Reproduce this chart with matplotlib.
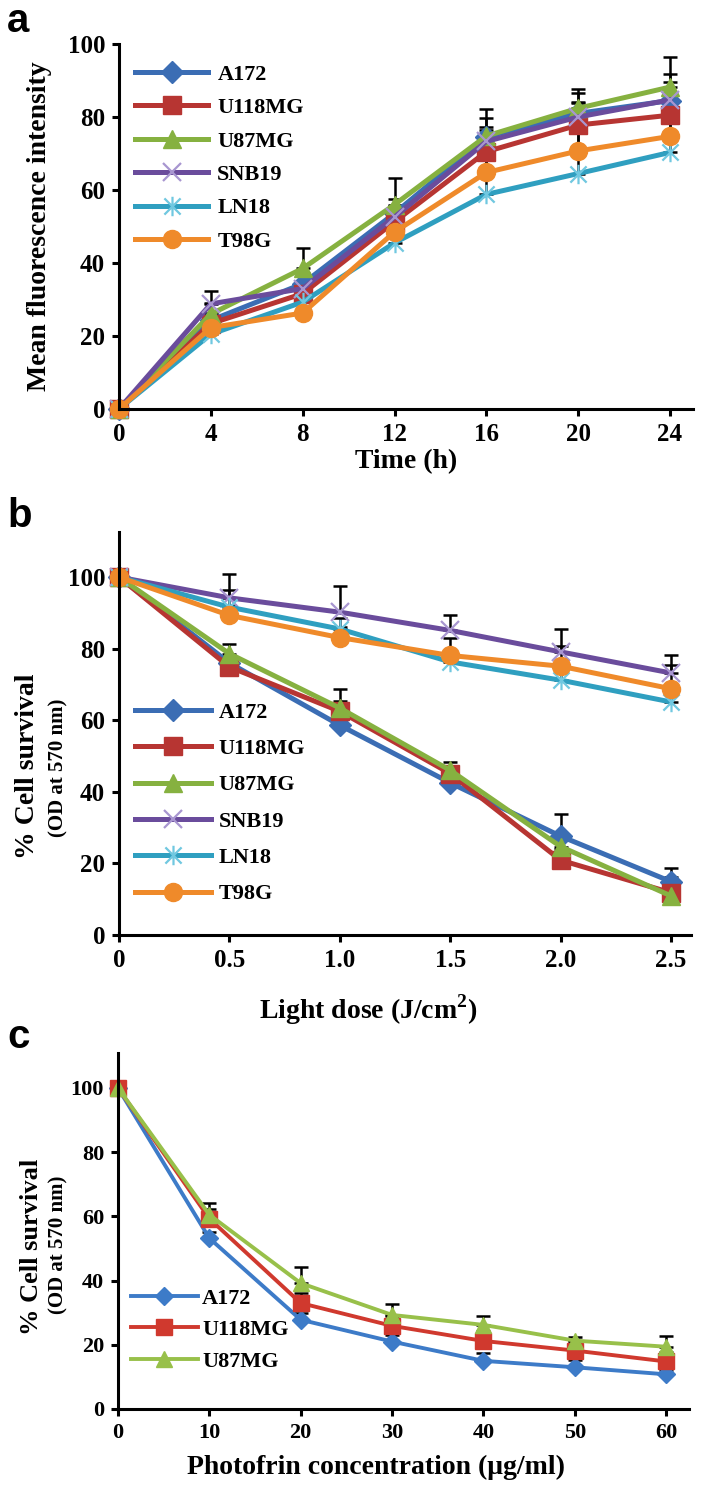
import matplotlib
matplotlib.use("Agg")
import matplotlib.pyplot as plt
from matplotlib.path import Path

plt.rcParams["font.family"] = ["Liberation Serif", "DejaVu Serif"]
plt.rcParams["font.weight"] = "bold"
plt.rcParams["mathtext.fontset"] = "custom"
plt.rcParams["mathtext.rm"] = "Liberation Serif:bold"
plt.rcParams["mathtext.bf"] = "Liberation Serif:bold"

# ---- data ----
lines6 = ["A172", "U118MG", "U87MG", "SNB19", "LN18", "T98G"]
lines3 = ["A172", "U118MG", "U87MG"]

# panel a: fluorescence over time
time_h = [0, 4, 8, 12, 16, 20, 24]
fluo = {
    "A172":   [0, 24.3, 34.3, 53.6, 74.6, 81.0, 84.5],
    "U118MG": [0, 23.4, 31.6, 51.3, 70.5, 77.8, 80.5],
    "U87MG":  [0, 26.0, 38.5, 56.0, 74.8, 82.4, 88.2],
    "SNB19":  [0, 28.8, 33.0, 52.6, 73.3, 80.0, 84.7],
    "LN18":   [0, 20.5, 29.3, 45.5, 58.8, 64.5, 70.3],
    "T98G":   [0, 22.3, 26.3, 48.5, 64.8, 70.7, 74.7],
}
fluo_err = {
    "A172":   [0, 2, 3, 4, 5, 5.5, 7.2],
    "U118MG": [0, 2, 3, 4, 6, 6, 6],
    "U87MG":  [0, 3, 5.5, 7.4, 7.4, 5.2, 8.2],
    "SNB19":  [0, 3.4, 2, 3, 4, 4, 5],
    "LN18":   [0, 2, 3, 5, 12, 14, 12],
    "T98G":   [0, 2, 3, 4, 6, 7, 5],
}

# panel b: survival vs light dose
dose = [0, 0.5, 1.0, 1.5, 2.0, 2.5]
surv_dose = {
    "A172":   [100, 76.0, 58.6, 42.5, 27.6, 14.9],
    "U118MG": [100, 74.9, 62.5, 45.1, 20.9, 11.8],
    "U87MG":  [100, 78.6, 63.4, 46.0, 24.7, 10.9],
    "SNB19":  [100, 94.2, 90.2, 85.1, 79.1, 73.2],
    "LN18":   [100, 91.6, 85.5, 76.3, 71.2, 65.1],
    "T98G":   [100, 89.3, 83.1, 78.1, 75.1, 68.8],
}
surv_dose_err = {
    "A172":   [0, 2, 3, 2, 6.1, 3.7],
    "U118MG": [0, 2, 3, 2, 3, 4.5],
    "U87MG":  [0, 2.6, 5.2, 2.4, 3, 2],
    "SNB19":  [0, 6.8, 7.2, 4.4, 6.5, 4.9],
    "LN18":   [0, 4.7, 3, 3, 3, 4],
    "T98G":   [0, 3, 3, 4.9, 5.6, 6.7],
}

# panel c: survival vs photofrin concentration
conc = [0, 10, 20, 30, 40, 50, 60]
surv_conc = {
    "A172":   [100, 53.2, 27.8, 21.0, 15.0, 13.0, 10.8],
    "U118MG": [100, 59.3, 33.0, 25.9, 21.2, 18.2, 14.8],
    "U87MG":  [100, 60.5, 39.2, 29.3, 26.2, 21.3, 19.4],
}
surv_conc_err = {
    "A172":   [0, 2, 2, 2, 2.6, 2.3, 1.5],
    "U118MG": [0, 3, 3, 3, 3, 3, 3],
    "U87MG":  [0, 3.6, 5, 3.3, 2.8, 1.1, 3.2],
}

# ---- styles ----
star = Path([(-1, -1), (1, 1), (-1, 1), (1, -1), (0, -1.2), (0, 1.2)],
            [Path.MOVETO, Path.LINETO] * 3)
style6 = {
    "A172":   dict(color="#3b6db4", marker="D", ms=11, mfc="#3b6db4", mec="#3b6db4"),
    "U118MG": dict(color="#b73532", marker="s", ms=13, mfc="#b73532", mec="#b73532"),
    "U87MG":  dict(color="#86b140", marker="^", ms=13, mfc="#86b140", mec="#86b140"),
    "SNB19":  dict(color="#6a4c9c", marker="x", ms=13, mfc="none", mec="#a896d0", mew=1.6),
    "LN18":   dict(color="#2f9fc0", marker=star, ms=14, mfc="none", mec="#70c8e0", mew=1.6),
    "T98G":   dict(color="#ef8a2a", marker="o", ms=13, mfc="#ef8a2a", mec="#ef8a2a"),
}
style3 = {
    "A172":   dict(color="#3d7bc8", marker="D", ms=9, mfc="#3d7bc8", mec="#3d7bc8"),
    "U118MG": dict(color="#d0392e", marker="s", ms=11, mfc="#d0392e", mec="#d0392e"),
    "U87MG":  dict(color="#98c04a", marker="^", ms=12, mfc="#98c04a", mec="#98c04a"),
}

W, H = 703, 1495
fig = plt.figure(figsize=(W / 100, H / 100), dpi=100)


def px_axes(x0, x1, ytop, ybot):
    return fig.add_axes([x0 / W, 1 - ybot / H, (x1 - x0) / W, (ybot - ytop) / H])


def ftext(x, y, s, **kw):
    fig.text(x / W, 1 - y / H, s, **kw)


def style_axes(ax, tick_size):
    for side in ["top", "right"]:
        ax.spines[side].set_visible(False)
    for side in ["left", "bottom"]:
        ax.spines[side].set_linewidth(2.2)
    ax.tick_params(direction="out", length=5, width=2.2, labelsize=tick_size, pad=5)
    for lab in ax.get_xticklabels() + ax.get_yticklabels():
        lab.set_fontweight("bold")


def draw(ax, x, data, err, names, styles, lw):
    for i, name in enumerate(names):
        ax.errorbar(x, data[name], yerr=[[0] * len(x), err[name]], fmt="none",
                    ecolor="black", elinewidth=1.8, capsize=5, capthick=1.8,
                    zorder=1.5, clip_on=False)
        st = styles[name]
        ax.plot(x, data[name], lw=lw, label=name, zorder=2 + i * 0.1,
                clip_on=False, **st)


legend_font = {"family": "Liberation Serif", "weight": "bold", "size": 16}

# ---- panel a ----
ax1 = px_axes(119, 693, 44, 409)
draw(ax1, time_h, fluo, fluo_err, lines6, style6, 3.6)
ax1.set_xlim(0, 25.0)
ax1.set_ylim(0, 100)
ax1.set_xticks(time_h)
ax1.set_yticks([0, 20, 40, 60, 80, 100])
style_axes(ax1, 18)
ax1.legend(loc="upper left", bbox_to_anchor=(0.028, 0.945), frameon=False,
           borderpad=0, borderaxespad=0, handlelength=3.3, handletextpad=0.4,
           labelspacing=0.58, prop=legend_font)
ftext(40, 226, "Mean fluorescence intensity", rotation=90, ha="center", va="center",
      fontsize=20, fontweight="bold")
ftext(406, 462, "Time (h)", ha="center", va="center", fontsize=20, fontweight="bold")

# ---- panel b ----
ax2 = px_axes(119, 691, 532, 935)
draw(ax2, dose, surv_dose, surv_dose_err, lines6, style6, 3.6)
ax2.set_xlim(0, 2.59)
ax2.set_ylim(0, 112.6)
ax2.set_xticks(dose)
ax2.set_xticklabels(["0", "0.5", "1.0", "1.5", "2.0", "2.5"])
ax2.set_yticks([0, 20, 40, 60, 80, 100])
style_axes(ax2, 18)
ax2.legend(loc="upper left", bbox_to_anchor=(0.028, 0.578), frameon=False,
           borderpad=0, borderaxespad=0, handlelength=3.4, handletextpad=0.35,
           labelspacing=0.71, prop=legend_font)
ftext(28, 766, "% Cell survival", rotation=90, ha="center", va="center",
      fontsize=20, fontweight="bold")
ftext(58, 768, "(OD at 570 nm)", rotation=90, ha="center", va="center",
      fontsize=15, fontweight="bold")
ftext(368, 1010, r"Light dose (J/cm$^{2}$)", ha="center", va="center",
      fontsize=20, fontweight="bold")

# ---- panel c ----
ax3 = px_axes(118, 689, 1053, 1409)
draw(ax3, conc, surv_conc, surv_conc_err, lines3, style3, 2.8)
ax3.set_xlim(0, 62.5)
ax3.set_ylim(0, 110.9)
ax3.set_xticks(conc)
ax3.set_yticks([0, 20, 40, 60, 80, 100])
style_axes(ax3, 16)
ax3.legend(loc="upper left", bbox_to_anchor=(0.023, 0.34), frameon=False,
           borderpad=0, borderaxespad=0, handlelength=3.0, handletextpad=0.2,
           labelspacing=0.5, prop=legend_font)
ftext(31, 1247, "% Cell survival", rotation=90, ha="center", va="center",
      fontsize=19, fontweight="bold")
ftext(58, 1245, "(OD at 570 nm)", rotation=90, ha="center", va="center",
      fontsize=15, fontweight="bold")
ftext(376, 1467, "Photofrin concentration (\u03bcg/ml)", ha="center", va="center",
      fontsize=20, fontweight="bold")

# panel letters
for letter, y in [("a", 32), ("b", 527), ("c", 1048)]:
    ftext(7, y, letter, ha="left", va="baseline", fontsize=29, fontweight="bold",
          family="Liberation Sans")

fig.savefig("out.png", dpi=100)
